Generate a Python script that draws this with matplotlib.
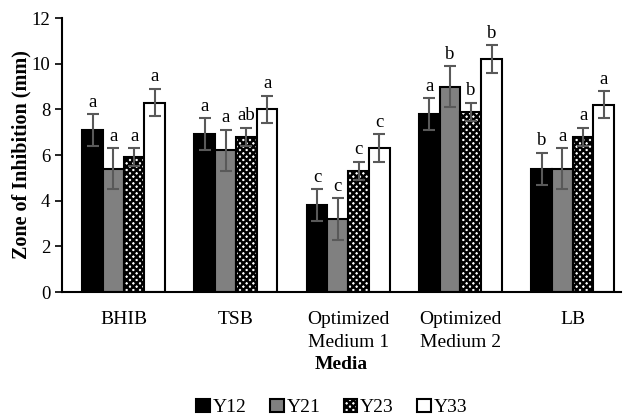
import matplotlib.pyplot as plt
import numpy as np

plt.rcParams['font.family'] = ['Liberation Serif']
plt.rcParams['hatch.linewidth'] = 1.8

media = ['BHIB', 'TSB', 'Optimized\nMedium 1', 'Optimized\nMedium 2', 'LB']
strains = ['Y12', 'Y21', 'Y23', 'Y33']

y12 = [7.1, 6.9, 3.8, 7.8, 5.4]
y21 = [5.4, 6.2, 3.2, 9.0, 5.4]
y23 = [5.9, 6.8, 5.3, 7.9, 6.8]
y33 = [8.3, 8.0, 6.3, 10.2, 8.2]

err12 = [0.7, 0.7, 0.7, 0.7, 0.7]
err21 = [0.9, 0.9, 0.9, 0.9, 0.9]
err23 = [0.4, 0.4, 0.4, 0.4, 0.4]
err33 = [0.6, 0.6, 0.6, 0.6, 0.6]

let12 = ['a', 'a', 'c', 'a', 'b']
let21 = ['a', 'a', 'c', 'b', 'a']
let23 = ['a', 'ab', 'c', 'b', 'a']
let33 = ['a', 'a', 'c', 'b', 'a']

values = [y12, y21, y23, y33]
errors = [err12, err21, err23, err33]
letters = [let12, let21, let23, let33]
faces = ['black', 'gray', 'white', 'white']
hatches = [None, None, 'xxxxx', None]

fig = plt.figure(figsize=(6.26, 4.19), dpi=100)
ax = fig.add_axes([0.099, 0.303, 0.893, 0.654])

x = np.arange(len(media))
w = 0.185
for i in range(4):
    pos = x + (i - 1.5) * w
    ax.bar(pos, values[i], w, color=faces[i], edgecolor='black',
           linewidth=1.5, hatch=hatches[i], label=strains[i], zorder=2)
    ax.errorbar(pos, values[i], yerr=errors[i], fmt='none', ecolor='#595959',
                elinewidth=1.5, capsize=4.5, capthick=1.5, zorder=3)
    for p, v, e, t in zip(pos, values[i], errors[i], letters[i]):
        ax.text(p, v + e + 0.15, t, ha='center', va='bottom', fontsize=13.5)

ax.set_ylim(0, 12)
ax.set_yticks(range(0, 13, 2))
ax.set_xlim(-0.55, 4.43)
ax.set_xticks(x)
ax.set_xticklabels(media, fontsize=14, linespacing=1.45, va='top')
ax.tick_params(axis='x', length=0, pad=14)
ax.tick_params(axis='y', labelsize=13.5, direction='out', length=5, width=1.2)
for s in ['top', 'right']:
    ax.spines[s].set_visible(False)
for s in ['left', 'bottom']:
    ax.spines[s].set_linewidth(1.5)

ax.set_ylabel('Zone of Inhibition (mm)', fontsize=14.5, fontweight='bold', labelpad=0)
ax.set_xlabel('Media', fontsize=14, fontweight='bold', labelpad=3)

fig.legend(loc='lower center', bbox_to_anchor=(0.53, -0.035), ncol=4, frameon=False,
           fontsize=14, handlelength=0.7, handleheight=0.7, handletextpad=0.15,
           columnspacing=1.2)

fig.savefig('out.png', dpi=100)
